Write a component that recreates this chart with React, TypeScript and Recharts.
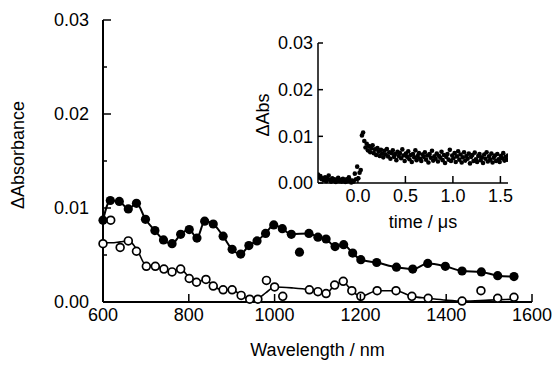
import React from 'react';
import { ComposedChart, Line, Scatter, XAxis, YAxis, Label } from 'recharts';

const FONT = '"Liberation Sans", Arial, Helvetica, sans-serif';

// main spectra: filled circles and open circles
const filledWl = [600, 617, 638, 659, 678, 699, 721, 741, 761, 781, 801, 819, 837, 857, 880, 901, 921, 940, 959, 979, 998, 1018, 1039, 1058, 1080, 1101, 1120, 1141, 1161, 1182, 1201, 1238, 1284, 1322, 1357, 1398, 1437, 1482, 1520, 1558];
const filledAbs = [0.0087, 0.0108, 0.0107, 0.0099, 0.0105, 0.0088, 0.0076, 0.0066, 0.0062, 0.0072, 0.0077, 0.0068, 0.0086, 0.0083, 0.0070, 0.0056, 0.0051, 0.0060, 0.0065, 0.0073, 0.0082, 0.0078, 0.0072, 0.0053, 0.0073, 0.0069, 0.0067, 0.0059, 0.0061, 0.0052, 0.0045, 0.0042, 0.0037, 0.0035, 0.0041, 0.0038, 0.0033, 0.0032, 0.0028, 0.0027];
const filledOutliers = [1058];

const openWl = [600, 618, 640, 659, 678, 701, 722, 742, 761, 781, 801, 818, 840, 857, 880, 901, 922, 942, 961, 981, 1000, 1019, 1081, 1101, 1120, 1140, 1160, 1180, 1201, 1239, 1283, 1320, 1358, 1437, 1481, 1520, 1558];
const openAbs = [0.0062, 0.0087, 0.0058, 0.0065, 0.0054, 0.0038, 0.0038, 0.0035, 0.0032, 0.0035, 0.0025, 0.0021, 0.0024, 0.0017, 0.0013, 0.0013, 0.0007, 0.0003, 0.0003, 0.0023, 0.0016, 0.0006, 0.0013, 0.0011, 0.0009, 0.0018, 0.0022, 0.0012, 0.0006, 0.0012, 0.0012, 0.0006, 0.0004, 0.0001, 0.0012, 0.0004, 0.0005];

// smooth curve drawn through the open-circle data
const openFitWl = [600, 620, 640, 660, 680, 700, 720, 742, 761, 781, 801, 818, 840, 857, 880, 901, 922, 942, 961, 980, 1000, 1040, 1080, 1101, 1120, 1140, 1160, 1180, 1201, 1239, 1283, 1320, 1358, 1400, 1440, 1500, 1560];
const openFitAbs = [0.0063, 0.0063, 0.0064, 0.0065, 0.0055, 0.0039, 0.0038, 0.0035, 0.0032, 0.0035, 0.0026, 0.0021, 0.0024, 0.0017, 0.0013, 0.0013, 0.0007, 0.0003, 0.0004, 0.0010, 0.0016, 0.0015, 0.0013, 0.0011, 0.0009, 0.0018, 0.0021, 0.0012, 0.0006, 0.0012, 0.0012, 0.0006, 0.0004, 0.0002, 0.0001, 0.0002, 0.0003];

const wlTicks = [600, 800, 1000, 1200, 1400, 1600];
const absTicks = [0, 0.005, 0.01, 0.015, 0.02, 0.025, 0.03];

// inset: time trace, sampled every insetStep µs from insetStart
const insetStart = -0.42;
const insetStep = 0.0125;
const insetAbs = [
  0.0018, 0.0012, 0.0015, 0.0008, 0.0010, 0.0006, 0.0012, 0.0004, 0.0009, 0.0016,
  0.0007, 0.0003, 0.0010, 0.0005, 0.0008, 0.0002, 0.0006, 0.0011, 0.0004, 0.0007,
  0.0003, 0.0009, 0.0005, 0.0002, 0.0008, 0.0004, 0.0012, 0.0006, 0.0001, 0.0005,
  0.0003, 0.0020, 0.0008, 0.0035, 0.0010, 0.0022, 0.0028,
  0.0102, 0.0108, 0.0090, 0.0076, 0.0084, 0.0070, 0.0079, 0.0066, 0.0074, 0.0081,
  0.0064, 0.0072, 0.0060, 0.0075, 0.0067, 0.0058, 0.0071, 0.0063, 0.0055, 0.0069,
  0.0061, 0.0073, 0.0057, 0.0066, 0.0052, 0.0064, 0.0070, 0.0056, 0.0062, 0.0049,
  0.0067, 0.0058, 0.0064, 0.0053, 0.0072, 0.0059, 0.0047, 0.0063, 0.0056, 0.0068,
  0.0051, 0.0060, 0.0045, 0.0062, 0.0055, 0.0070, 0.0049, 0.0058, 0.0064, 0.0052,
  0.0047, 0.0061, 0.0056, 0.0066, 0.0050, 0.0059, 0.0044, 0.0062, 0.0054, 0.0069,
  0.0048, 0.0057, 0.0052, 0.0063, 0.0046, 0.0058, 0.0054, 0.0067, 0.0049, 0.0060,
  0.0043, 0.0056, 0.0062, 0.0050, 0.0071, 0.0047, 0.0059, 0.0053, 0.0064, 0.0045,
  0.0057, 0.0068, 0.0050, 0.0061, 0.0044, 0.0055, 0.0066, 0.0048, 0.0058, 0.0052,
  0.0063, 0.0042, 0.0056, 0.0060, 0.0047, 0.0065, 0.0051, 0.0045, 0.0058, 0.0062,
  0.0049, 0.0055, 0.0043, 0.0061, 0.0052, 0.0066, 0.0046, 0.0057, 0.0050, 0.0063,
  0.0044, 0.0054, 0.0059, 0.0047, 0.0062, 0.0051, 0.0045, 0.0058, 0.0053, 0.0064,
  0.0048, 0.0056, 0.0050, 0.0059,
];
const timeTicks = [0, 0.5, 1.0, 1.5];
const insetAbsTicks = [0, 0.01, 0.02, 0.03];

const filledPts = filledWl.map((wl, i) => ({ wl, v: filledAbs[i] }));
const filledFit = filledPts.filter((p) => !filledOutliers.includes(p.wl));
const openPts = openWl.map((wl, i) => ({ wl, v: openAbs[i] }));
const openFit = openFitWl.map((wl, i) => ({ wl, v: openFitAbs[i] }));
const insetPts = insetAbs.map((v, i) => ({ t: insetStart + i * insetStep, v }));

const txt = { fontFamily: FONT, fontSize: 18, fill: '#000' };

// ticks drawn pointing into the plot
const leftTick = (gap: number, len: (v: number) => number, fmt: (v: number) => string) => (p: any) => {
  const v = p.payload.value;
  const ax = p.x + gap;
  const label = fmt(v);
  return (
    <g>
      <line x1={ax} x2={ax + len(v)} y1={p.y} y2={p.y} stroke="#000" strokeWidth={1.5} />
      {label && <text x={p.x} y={p.y} dy="0.355em" textAnchor="end" style={txt}>{label}</text>}
    </g>
  );
};

const bottomTick = (gap: number, len: number, fmt: (v: number) => string) => (p: any) => {
  const ay = p.y - gap;
  return (
    <g>
      <line x1={p.x} x2={p.x} y1={ay} y2={ay - len} stroke="#000" strokeWidth={1.5} />
      <text x={p.x} y={p.y} dy="0.71em" textAnchor="middle" style={txt}>{fmt(p.payload.value)}</text>
    </g>
  );
};

const isMajor = (v: number) => Math.abs(v * 100 - Math.round(v * 100)) < 1e-6;

const Dot = (r: number) => (p: any) => <circle cx={p.cx} cy={p.cy} r={r} fill="#000" />;
const OpenDot = (p: any) => <circle cx={p.cx} cy={p.cy} r={3.9} fill="#fff" stroke="#000" strokeWidth={1.7} />;

export default function App() {
  return (
    <div style={{ position: 'absolute', left: 0, top: 0, width: 556, height: 367, background: '#fff' }}>
      <ComposedChart width={556} height={367} margin={{ top: 20, right: 24, bottom: 0, left: 0 }}>
        <XAxis xAxisId="b" type="number" dataKey="wl" domain={[600, 1600]} ticks={wlTicks} interval={0}
          height={65} tickSize={0} tickMargin={6} tickLine={false} axisLine={{ stroke: '#000', strokeWidth: 2 }}
          tick={bottomTick(6, 8, (v) => String(v))}>
          <Label content={(p: any) => (
            <text x={p.viewBox.x + p.viewBox.width / 2} y={p.viewBox.y + 48} dy="0.355em" textAnchor="middle" style={txt}>
              Wavelength / nm
            </text>
          )} />
        </XAxis>
        <XAxis xAxisId="t" orientation="top" type="number" dataKey="wl" domain={[600, 1600]} height={0}
          tick={false} tickLine={false} axisLine={{ stroke: '#000', strokeWidth: 2 }} />
        <YAxis yAxisId="l" type="number" dataKey="v" domain={[0, 0.03]} ticks={absTicks} interval={0}
          width={103} tickSize={0} tickMargin={14} tickLine={false} axisLine={{ stroke: '#000', strokeWidth: 2 }}
          tick={leftTick(14, (v) => (isMajor(v) ? 8 : 4), (v) => (isMajor(v) ? v.toFixed(2) : ''))}>
          <Label content={(p: any) => {
            const cx = p.viewBox.x + 18;
            const cy = p.viewBox.y + p.viewBox.height / 2 - 6;
            return (
              <text x={cx} y={cy} transform={`rotate(-90 ${cx} ${cy})`} dy="0.355em" textAnchor="middle" style={txt}>
                ΔAbsorbance
              </text>
            );
          }} />
        </YAxis>
        <YAxis yAxisId="r" orientation="right" type="number" dataKey="v" domain={[0, 0.03]} width={0}
          tick={false} tickLine={false} axisLine={{ stroke: '#000', strokeWidth: 2 }} />

        <Line xAxisId="b" yAxisId="l" data={openFit} dataKey="v" type="monotone" stroke="#000" strokeWidth={1.6}
          dot={false} activeDot={false} isAnimationActive={false} />
        <Line xAxisId="b" yAxisId="l" data={filledFit} dataKey="v" type="monotone" stroke="#000" strokeWidth={2}
          dot={false} activeDot={false} isAnimationActive={false} />
        <Scatter xAxisId="b" yAxisId="l" data={openPts} dataKey="v" shape={OpenDot} isAnimationActive={false} />
        <Scatter xAxisId="b" yAxisId="l" data={filledPts} dataKey="v" shape={Dot(4.6)} isAnimationActive={false} />
      </ComposedChart>

      <div style={{ position: 'absolute', left: 250, top: 25 }}>
        <ComposedChart width={270} height={210} margin={{ top: 18, right: 12, bottom: 0, left: 0 }}>
          <XAxis xAxisId="b" type="number" dataKey="t" domain={[-0.42, 1.58]} ticks={timeTicks} interval={0}
            allowDataOverflow height={52} tickSize={0} tickMargin={6} tickLine={false}
            axisLine={{ stroke: '#000', strokeWidth: 1.5 }} tick={bottomTick(6, 7, (v) => v.toFixed(1))}>
            <Label content={(p: any) => (
              <text x={p.viewBox.x + p.viewBox.width / 2 + 10} y={p.viewBox.y + 39} dy="0.355em" textAnchor="middle" style={txt}>
                time / μs
              </text>
            )} />
          </XAxis>
          <XAxis xAxisId="t" orientation="top" type="number" dataKey="t" domain={[-0.42, 1.58]} height={0}
            allowDataOverflow tick={false} tickLine={false} axisLine={{ stroke: '#000', strokeWidth: 1.5 }} />
          <YAxis yAxisId="l" type="number" dataKey="v" domain={[0, 0.03]} ticks={insetAbsTicks} interval={0}
            width={68} tickSize={0} tickMargin={5} tickLine={false} axisLine={{ stroke: '#000', strokeWidth: 1.5 }}
            tick={leftTick(5, () => 5, (v) => v.toFixed(2))}>
            <Label content={(p: any) => {
              const cx = p.viewBox.x + 13;
              const cy = p.viewBox.y + p.viewBox.height / 2 + 2;
              return (
                <text x={cx} y={cy} transform={`rotate(-90 ${cx} ${cy})`} dy="0.355em" textAnchor="middle" style={txt}>
                  ΔAbs
                </text>
              );
            }} />
          </YAxis>
          <YAxis yAxisId="r" orientation="right" type="number" dataKey="v" domain={[0, 0.03]} width={0}
            tick={false} tickLine={false} axisLine={{ stroke: '#000', strokeWidth: 1.5 }} />
          <Scatter xAxisId="b" yAxisId="l" data={insetPts} dataKey="v" shape={Dot(2.3)} isAnimationActive={false} />
        </ComposedChart>
      </div>
    </div>
  );
}
